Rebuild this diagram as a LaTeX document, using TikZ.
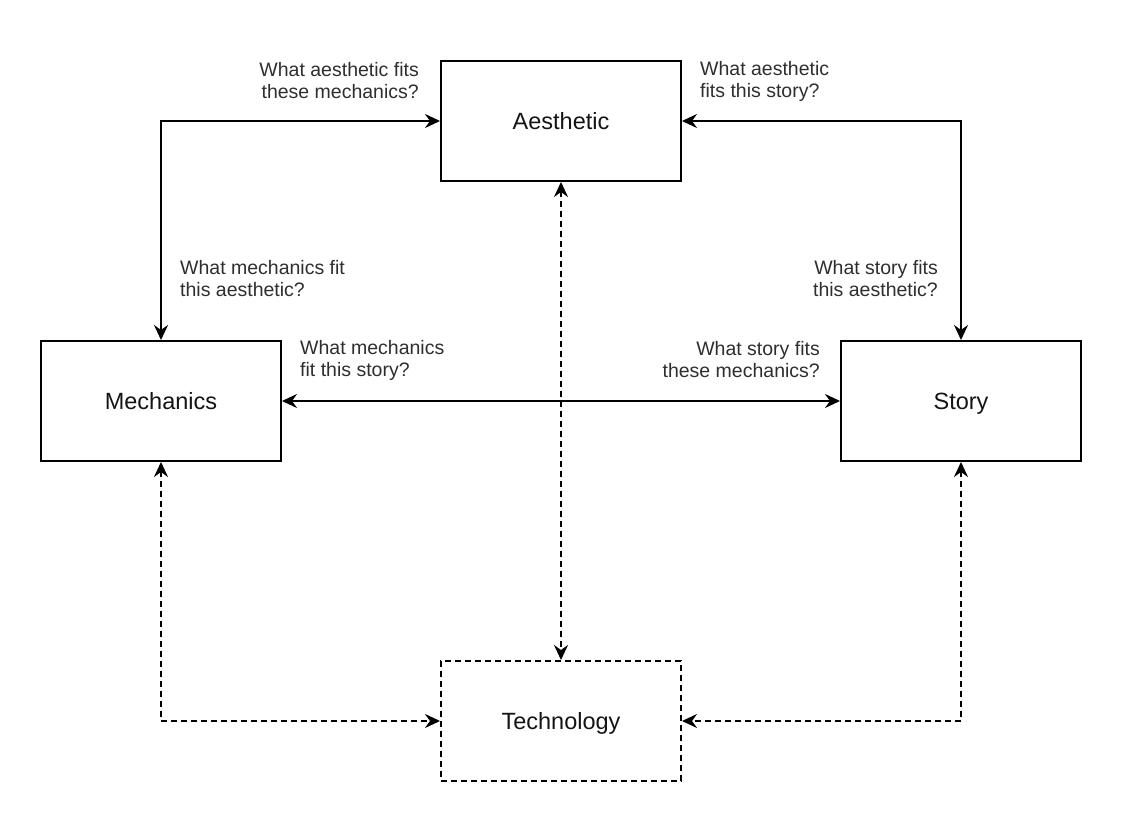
\documentclass[tikz,border=0pt]{standalone}
\usepackage{fontspec}
\setmainfont{Liberation Sans}
\usetikzlibrary{arrows.meta}
\begin{document}
\begin{tikzpicture}[x=1pt,y=-1pt,
  box/.style={draw, line width=2pt, minimum width=240pt, minimum height=120pt, inner sep=0pt, text height=20pt, text depth=3.2pt, font=\fontsize{23.5}{27}\selectfont, text=black!92},
  dbox/.style={box, dash pattern=on 6pt off 4pt},
  conn/.style={line width=2pt, {Stealth[length=15pt,width=14pt,inset=5pt]}-{Stealth[length=15pt,width=14pt,inset=5pt]}},
  dconn/.style={conn, dash pattern=on 6pt off 4pt},
  lbl/.style={font=\fontsize{19.5}{22}\selectfont, text=black!82, inner sep=0pt}
]
\useasboundingbox (0,0) rectangle (1122,824);
\node[box] (aes) at (561,121) {Aesthetic};
\node[box] (mec) at (161,401) {Mechanics};
\node[box] (sto) at (961,401) {Story};
\node[dbox] (tec) at (561,721) {Technology};

\draw[conn] (mec.north) |- (aes.west);
\draw[conn] (sto.north) |- (aes.east);
\draw[conn] (mec.east) -- (sto.west);
\draw[dconn] (aes.south) -- (tec.north);
\draw[dconn] (mec.south) |- (tec.west);
\draw[dconn] (sto.south) |- (tec.east);

\node[lbl, align=right, anchor=east] (l1) at (419,81) {What aesthetic fits\\these mechanics?};
\node[lbl, align=left, anchor=west] (l2) at (700,81) {What aesthetic\\fits this story?};
\node[lbl, align=left, anchor=west] (l3) at (180,279) {What mechanics fit\\this aesthetic?};
\node[lbl, align=right, anchor=east] (l4) at (938,279) {What story fits\\this aesthetic?};
\node[lbl, align=left, anchor=west] (l5) at (300,360) {What mechanics\\fit this story?};
\node[lbl, align=right, anchor=east] (l6) at (820,360) {What story fits\\these mechanics?};
\end{tikzpicture}
\end{document}
